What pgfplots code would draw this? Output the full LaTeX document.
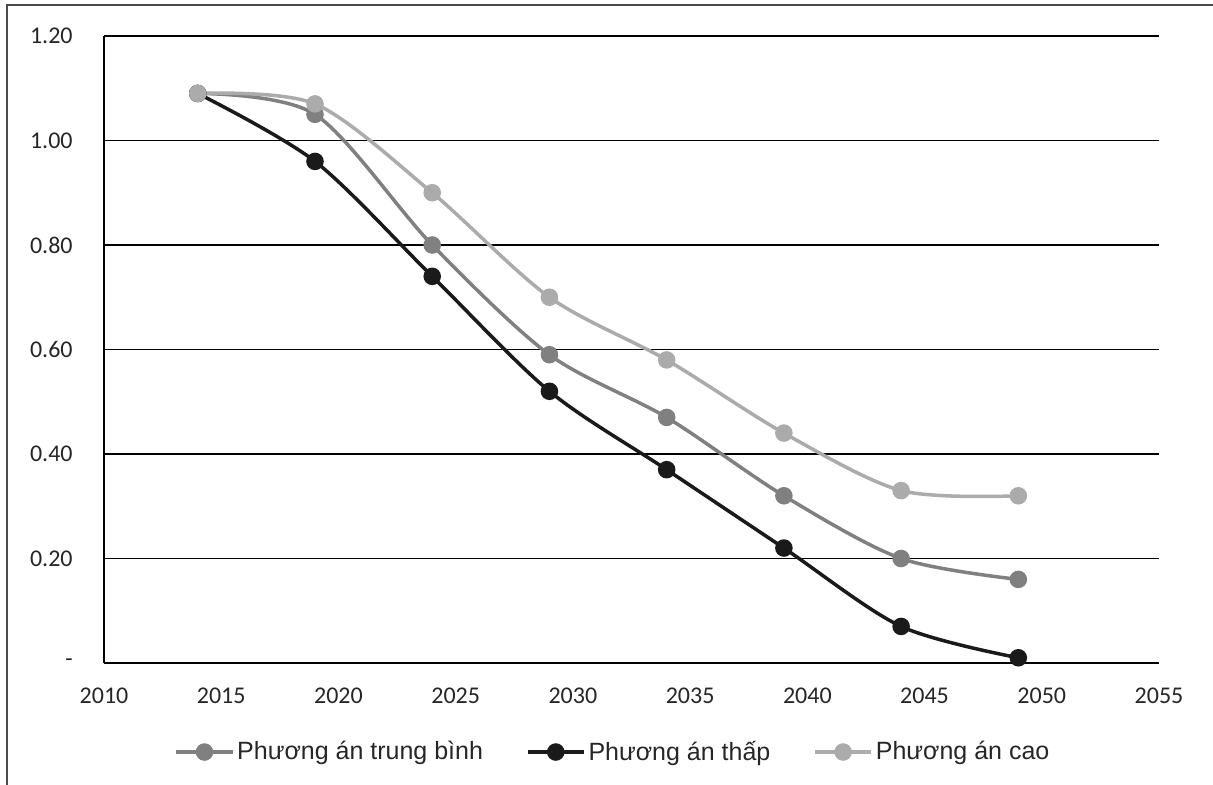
\documentclass[border=0pt]{standalone}
\usepackage{fontspec}
\setmainfont{Carlito}
\newfontfamily\arial{Liberation Sans}
\usepackage{pgfplots}
\pgfplotsset{compat=1.18}

\definecolor{midgray}{HTML}{808080}
\definecolor{lowblack}{HTML}{1A1A1A}
\definecolor{highgray}{HTML}{ABABAB}
\definecolor{framegray}{HTML}{4A4A4A}
\definecolor{txt}{HTML}{262626}

\begin{document}
\begin{tikzpicture}[x=0.5pt,y=0.5pt]
% picture is laid out in source pixels (1 px = 0.5pt)
\useasboundingbox (0,0) rectangle (1213,785);
\draw[framegray, line width=1.2pt] (7,0) -- (7,780) -- (1213,780);

\begin{axis}[
    at={(52pt,61pt)}, anchor=south west,
    scale only axis, width=527.5pt, height=313.5pt,
    xmin=2010, xmax=2055, ymin=0, ymax=1.2,
    axis x line*=bottom, axis y line*=left,
    axis line style={black, line width=1pt, -},
    xtick={2010,2015,...,2055},
    ytick={0,0.2,0.4,0.6,0.8,1.0,1.2},
    yticklabels={-\hspace{5.5pt},0.20,0.40,0.60,0.80,1.00,1.20},
    xticklabel={\pgfmathprintnumber[precision=0,1000 sep={}]{\tick}},
    major tick length=0pt,
    ymajorgrids,
    grid style={black, line width=0.85pt},
    tick label style={font=\fontsize{12pt}{14pt}\selectfont, text=txt},
    /pgf/number format/assume math mode=true,
    yticklabel style={anchor=east, inner sep=0pt, xshift=-15.5pt},
    xticklabel style={anchor=north, inner sep=0pt, yshift=-12.5pt},
    clip=false,
    legend columns=3,
    legend style={
        at={(0.483,-0.142)}, anchor=center, draw=none, fill=none,
        font=\arial\fontsize{12.5pt}{15pt}\selectfont, text=txt,
        /tikz/every even column/.append style={column sep=20pt},
        nodes={inner sep=1.5pt},
    },
    legend image code/.code={%
        \draw[#1, mark repeat=2, mark phase=2]
            plot coordinates {(0pt,0pt) (14pt,0pt) (28pt,0pt)};},
    every axis plot/.append style={smooth, line width=1.75pt,
        mark=*, mark size=3.5pt},
]
\addplot[midgray, mark options={fill=midgray, draw=midgray}] coordinates {
    (2014,1.09) (2019,1.05) (2024,0.80) (2029,0.59)
    (2034,0.47) (2039,0.32) (2044,0.20) (2049,0.16)
};
\addlegendentry{Phương án trung bình}
\addplot[lowblack, mark options={fill=lowblack, draw=lowblack}] coordinates {
    (2014,1.09) (2019,0.96) (2024,0.74) (2029,0.52)
    (2034,0.37) (2039,0.22) (2044,0.07) (2049,0.01)
};
\addlegendentry{Phương án thấp}
\addplot[highgray, mark options={fill=highgray, draw=highgray}] coordinates {
    (2014,1.09) (2019,1.07) (2024,0.90) (2029,0.70)
    (2034,0.58) (2039,0.44) (2044,0.33) (2049,0.32)
};
\addlegendentry{Phương án cao}
\end{axis}
\end{tikzpicture}
\end{document}
